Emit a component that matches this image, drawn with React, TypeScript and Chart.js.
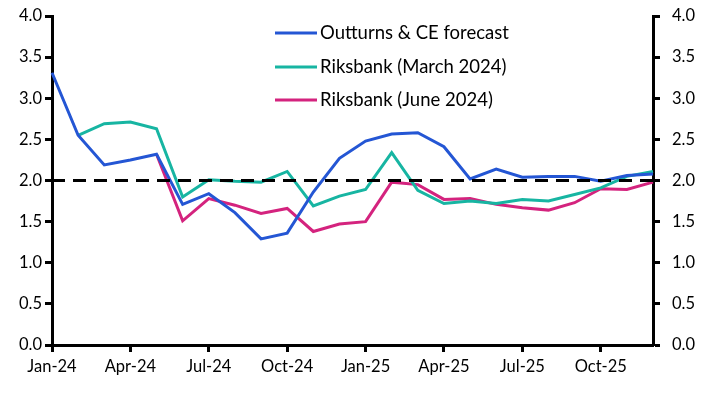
import React, { useEffect, useRef } from "react";
import { Chart, registerables } from "chart.js";

Chart.register(...registerables);

const months = [
  "Jan-24", "Feb-24", "Mar-24", "Apr-24", "May-24", "Jun-24", "Jul-24", "Aug-24", "Sep-24", "Oct-24", "Nov-24", "Dec-24",
  "Jan-25", "Feb-25", "Mar-25", "Apr-25", "May-25", "Jun-25", "Jul-25", "Aug-25", "Sep-25", "Oct-25", "Nov-25", "Dec-25",
];

const outturns = [
  3.31, 2.55, 2.19, 2.25, 2.32, 1.71, 1.84, 1.61, 1.29, 1.36, 1.86, 2.27,
  2.48, 2.565, 2.58, 2.41, 2.02, 2.14, 2.04, 2.05, 2.05, 1.99, 2.06, 2.08,
];

const riksbankMarch = [
  null, 2.55, 2.69, 2.71, 2.63, 1.8, 2.01, 1.99, 1.98, 2.11, 1.69, 1.81,
  1.89, 2.34, 1.88, 1.72, 1.75, 1.72, 1.77, 1.75, 1.83, 1.91, 2.05, 2.11,
];

const riksbankJune = [
  null, null, null, null, 2.32, 1.51, 1.78, 1.7, 1.6, 1.66, 1.38, 1.47,
  1.5, 1.98, 1.95, 1.77, 1.78, 1.71, 1.67, 1.64, 1.73, 1.9, 1.89, 1.98,
];

const target = 2.0;
const yMin = 0;
const yMax = 4;
const yStep = 0.5;

const FONT = "Lato, 'Open Sans', sans-serif";

export default function App() {
  const ref = useRef<HTMLCanvasElement | null>(null);

  useEffect(() => {
    document.body.style.margin = "0";
    const canvas = ref.current;
    if (!canvas) return;

    const targetLine = {
      id: "targetLine",
      afterDatasetsDraw(chart: any) {
        const { ctx, chartArea, scales } = chart;
        const y = scales.y.getPixelForValue(target);
        ctx.save();
        ctx.strokeStyle = "#000";
        ctx.lineWidth = 3;
        ctx.setLineDash([13, 8]);
        ctx.beginPath();
        ctx.moveTo(chartArea.left, y);
        ctx.lineTo(chartArea.right, y);
        ctx.stroke();
        ctx.restore();
      },
    };

    const innerLegend = {
      id: "innerLegend",
      afterDraw(chart: any) {
        const { ctx } = chart;
        const x0 = 275;
        const x1 = 317;
        const rows = [33, 67, 100];
        ctx.save();
        chart.data.datasets.forEach((ds: any, i: number) => {
          const y = rows[i];
          ctx.strokeStyle = ds.borderColor;
          ctx.lineWidth = 3;
          ctx.beginPath();
          ctx.moveTo(x0, y);
          ctx.lineTo(x1, y);
          ctx.stroke();
          ctx.fillStyle = "#000";
          ctx.font = `18.5px ${FONT}`;
          ctx.textBaseline = "middle";
          ctx.textAlign = "left";
          ctx.fillText(ds.label, x1 + 3, y);
        });
        ctx.restore();
      },
    };

    const fixV = (w: number) => (s: any) => {
      s.width = w;
      s.paddingTop = 0;
      s.paddingBottom = 0;
    };

    const axisCommon = {
      min: yMin,
      max: yMax,
      ticks: {
        stepSize: yStep,
        color: "#000",
        font: { family: FONT, size: 16.5 },
        callback: (v: any) => Number(v).toFixed(1),
      },
      grid: {
        drawOnChartArea: false,
        drawTicks: true,
        tickLength: 7,
        tickWidth: 3,
        tickColor: "#000",
      },
      border: { display: true, color: "#000", width: 3 },
    };

    const chart = new Chart(canvas, {
      type: "line",
      data: {
        labels: months,
        datasets: [
          {
            label: "Outturns & CE forecast",
            data: outturns,
            borderColor: "#2456D4",
            borderWidth: 3,
            pointRadius: 0,
            tension: 0,
          },
          {
            label: "Riksbank (March 2024)",
            data: riksbankMarch,
            borderColor: "#17B5A2",
            borderWidth: 3,
            pointRadius: 0,
            tension: 0,
          },
          {
            label: "Riksbank (June 2024)",
            data: riksbankJune,
            borderColor: "#D4237E",
            borderWidth: 3,
            pointRadius: 0,
            tension: 0,
          },
        ],
      },
      options: {
        animation: false,
        responsive: false,
        maintainAspectRatio: false,
        layout: { padding: { top: 16, left: 0, right: 0, bottom: 0 } },
        plugins: {
          legend: { display: false },
          tooltip: { enabled: false },
        },
        scales: {
          x: {
            type: "category",
            offset: false,
            ticks: {
              autoSkip: false,
              maxRotation: 0,
              color: "#000",
              padding: 5,
              font: { family: FONT, size: 16.5 },
              callback: function (this: any, _v: any, i: number) {
                return i % 3 === 0 ? months[i] : null;
              },
            },
            grid: {
              drawOnChartArea: false,
              drawTicks: true,
              tickLength: 7,
              tickWidth: 3,
              tickColor: "#000",
            },
            border: { display: true, color: "#000", width: 3 },
            afterFit: (s: any) => {
              s.height = 393 - 345;
            },
          },
          y: {
            ...axisCommon,
            position: "left",
            afterFit: fixV(52),
          },
          y1: {
            ...axisCommon,
            position: "right",
            ticks: { ...axisCommon.ticks, padding: 12 },
            afterFit: fixV(55),
          },
        },
      },
      plugins: [targetLine, innerLegend],
    } as any);

    return () => chart.destroy();
  }, []);

  return (
    <div style={{ width: 708, height: 393 }}>
      <canvas ref={ref} width={708} height={393} style={{ display: "block" }} />
    </div>
  );
}
